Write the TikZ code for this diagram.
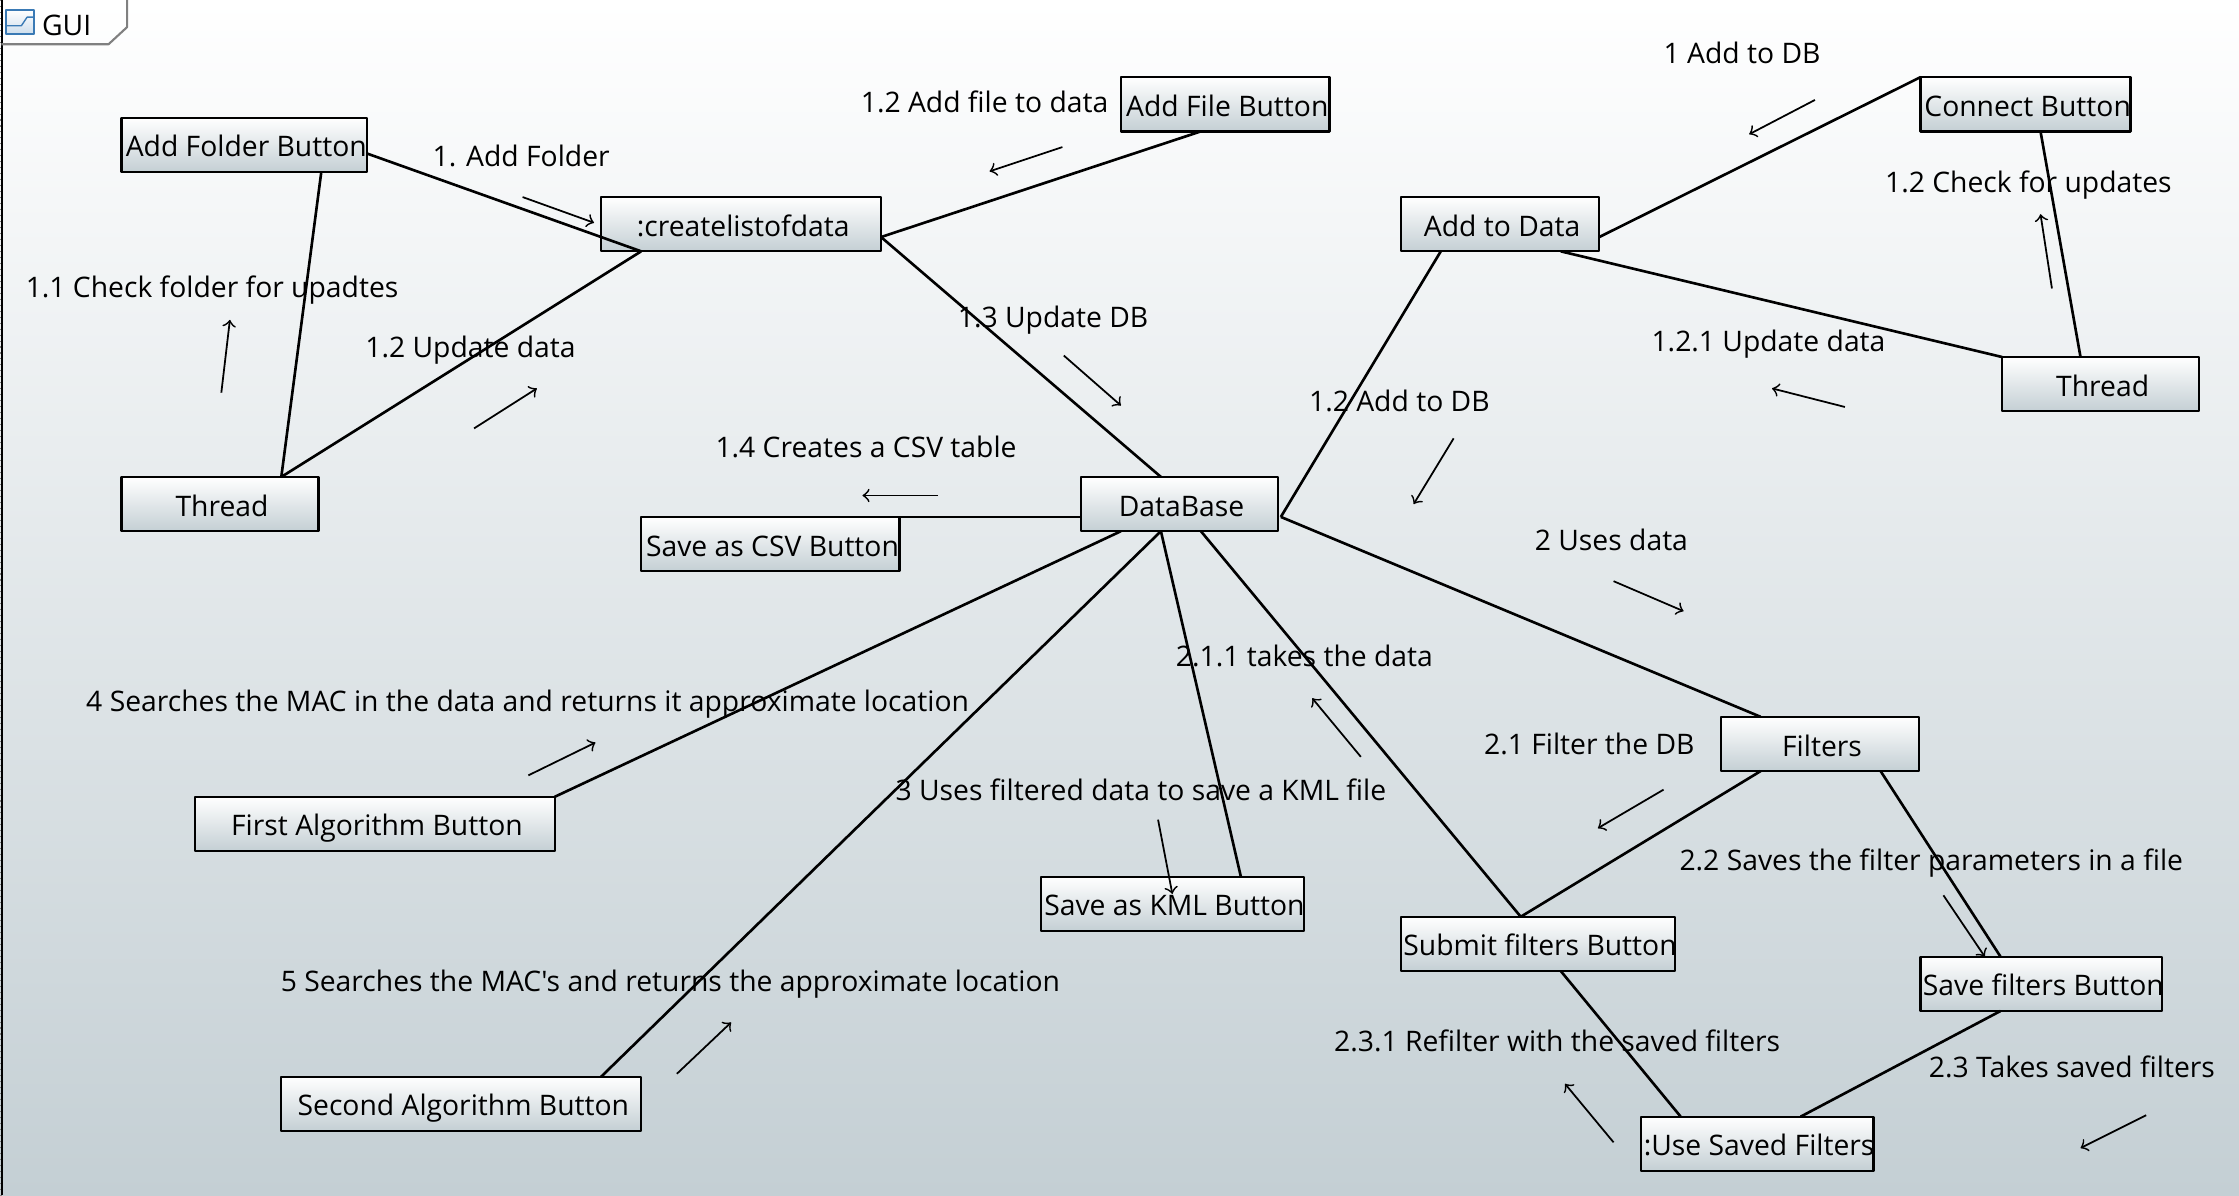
\documentclass[tikz,border=0pt]{standalone}
\usepackage{fontspec}
\setmainfont{Open Sans}[Ligatures=TeXOff]
\usepackage{tikz}
\usetikzlibrary{arrows}
\definecolor{steel}{HTML}{C4CFD4}
\definecolor{iconblue}{HTML}{3A7AB5}
\newcommand{\upx}{.01428cm}
\newcommand{\btntext}[1]{\makebox[0pt]{\hspace*{1.2pt}#1}}
\begin{document}
\begin{tikzpicture}[x=.01428cm,y=-.01428cm,line join=round]
\tikzstyle{btn} = [draw=black,line width=.65pt,top color=white,bottom color=steel,anchor=north west,minimum height=38*\upx,inner sep=0pt,outer sep=0pt,font=\fontsize{8.05}{9}\selectfont,text height=8.2pt,text depth=1.34pt]
\tikzstyle{ann} = [anchor=base,inner sep=0pt,font=\fontsize{8.05}{9}\selectfont]
\tikzstyle{link} = [line width=.75pt]
\tikzstyle{msg} = [line width=.5pt,->]
\fill[use as bounding box,top color=white,bottom color=steel] (0,0) rectangle (1568,836.9);
\draw[line width=1pt,gray,dash pattern=on .3pt off 1.4pt] (.4,0) -- (.4,836.9);
\draw[line width=.6pt,black] (1.2,0) -- (1.2,836.9);
\draw[line width=.6pt,gray] (1,31) -- (76,31) -- (89,19) -- (89,0);
\draw[line width=.6pt,iconblue,top color=white,bottom color=iconblue!25] (4,7) rectangle (24,24);
\draw[line width=.4pt,iconblue] (4,18) -- (15,18) -- (19,12) -- (24,12);
\node[anchor=base west,inner sep=0pt,font=\fontsize{8.05}{9}\selectfont] (guilabel) at (29,25) {GUI};
\node[btn,minimum width=172*\upx] (addfolder) at (85,82.5) {\btntext{Add Folder Button}};
\node[btn,minimum width=196*\upx] (create) at (421,138) {\btntext{:createlistofdata}};
\node[btn,minimum width=146*\upx] (addfile) at (785,54) {\btntext{Add File Button}};
\node[btn,minimum width=147*\upx] (connect) at (1345,54) {\btntext{Connect Button}};
\node[btn,minimum width=139*\upx] (adddata) at (981,138) {\btntext{Add to Data}};
\node[btn,minimum width=138*\upx] (threadl) at (85,334) {\btntext{Thread}};
\node[btn,minimum width=138*\upx] (threadr) at (1402,250) {\btntext{Thread}};
\node[btn,minimum width=138*\upx] (db) at (757,334) {\btntext{DataBase}};
\node[btn,minimum width=181*\upx] (csv) at (449,362) {\btntext{Save as CSV Button}};
\node[btn,minimum width=139*\upx] (filters) at (1205,502) {\btntext{Filters}};
\node[btn,minimum width=252*\upx] (first) at (136.5,558) {\btntext{First Algorithm Button}};
\node[btn,minimum width=184*\upx] (kml) at (729,614) {\btntext{Save as KML Button}};
\node[btn,minimum width=192*\upx] (submit) at (981,642) {\btntext{Submit filters Button}};
\node[btn,minimum width=169*\upx] (save) at (1345,670) {\btntext{Save filters Button}};
\node[btn,minimum width=252*\upx] (second) at (197,754) {\btntext{Second Algorithm Button}};
\node[btn,minimum width=163*\upx] (use) at (1149,782) {\btntext{:Use Saved Filters}};
\draw[link] ([shift={(172,25)}]addfolder.north west) -- ([shift={(28,38)}]create.north west);
\draw[link] ([shift={(140,38)}]addfolder.north west) -- ([shift={(112,0)}]threadl.north west);
\draw[link] ([shift={(112,0)}]threadl.north west) -- ([shift={(28,38)}]create.north west);
\draw[link] ([shift={(196,28)}]create.north west) -- ([shift={(56,38)}]addfile.north west);
\draw[link] ([shift={(196,28)}]create.north west) -- ([shift={(56,0)}]db.north west);
\draw[link] ([shift={(139,28)}]adddata.north west) -- (connect.north west);
\draw[link] ([shift={(84,38)}]connect.north west) -- ([shift={(55,0)}]threadr.north west);
\draw[link] ([shift={(112,38)}]adddata.north west) -- (threadr.north west);
\draw[link] ([shift={(28,38)}]adddata.north west) -- ([shift={(140,28)}]db.north west);
\draw[link] ([shift={(0,28)}]db.north west) -- ([shift={(140,0)}]csv.north west);
\draw[link] ([shift={(28,38)}]db.north west) -- ([shift={(252,0)}]first.north west);
\draw[link] ([shift={(56,38)}]db.north west) -- ([shift={(224,0)}]second.north west);
\draw[link] ([shift={(56,38)}]db.north west) -- ([shift={(140,0)}]kml.north west);
\draw[link] ([shift={(84,38)}]db.north west) -- ([shift={(84,0)}]submit.north west);
\draw[link] ([shift={(140,28)}]db.north west) -- ([shift={(28,0)}]filters.north west);
\draw[link] ([shift={(28,38)}]filters.north west) -- ([shift={(84,0)}]submit.north west);
\draw[link] ([shift={(112,38)}]filters.north west) -- ([shift={(56,0)}]save.north west);
\draw[link] ([shift={(56,38)}]save.north west) -- ([shift={(112,0)}]use.north west);
\draw[link] ([shift={(112,38)}]submit.north west) -- ([shift={(28,0)}]use.north west);
\foreach \i/\xa/\ya/\xb/\yb in {1/366/138/416/156,2/155/275/161/224,3/332/300/376/272,4/744/103/693/120,5/745/249/785/284,6/1271/70/1225/94,7/1437/202/1429/150,8/1292/285/1241/272,9/1018/307/990/353,10/657/347/604/347,11/1130/407/1179/428,12/953/530/919/489,13/1165/553/1119/580,14/370/543/417/520,15/811/574/821/626,16/1361/627/1390/670,17/474/752/512/716,18/1130/800/1096/759,19/1503/781/1457/804}{
  \coordinate (msg\i s) at (\xa,\ya);
  \coordinate (msg\i e) at (\xb,\yb);
  \draw[msg] (msg\i s) -- (msg\i e);
}
\node[ann] (m1) at (365,116.5) {1. Add Folder};
\node[ann] (m11) at (148.5,208.5) {1.1 Check folder for upadtes};
\node[ann] (m12) at (329.5,250.5) {1.2 Update data};
\node[ann] (m12f) at (689.5,78.5) {1.2 Add file to data};
\node[ann] (m13) at (737.5,229.5) {1.3 Update DB};
\node[ann] (m14) at (606.5,320.5) {1.4 Creates a CSV table};
\node[ann] (n1) at (1220,44.5) {1 Add to DB};
\node[ann] (n12c) at (1420.5,134.5) {1.2 Check for updates};
\node[ann] (n121) at (1238.5,246.5) {1.2.1 Update data};
\node[ann] (n12a) at (980,288.5) {1.2 Add to DB};
\node[ann] (u2) at (1128.5,385.5) {2 Uses data};
\node[ann] (u211) at (913.5,466.5) {2.1.1 takes the data};
\node[ann] (u21) at (1113,528.5) {2.1 Filter the DB};
\node[ann] (s4) at (369.5,498.5) {4 Searches the MAC in the data and returns it approximate location};
\node[ann] (s3) at (799,560.5) {3 Uses filtered data to save a KML file};
\node[ann] (u22) at (1352.5,609.5) {2.2 Saves the filter parameters in a file};
\node[ann] (s5) at (469.5,694.5) {5 Searches the MAC's and returns the approximate location};
\node[ann] (u231) at (1090.5,736.5) {2.3.1 Refilter with the saved filters};
\node[ann] (u23) at (1451,754.5) {2.3 Takes saved filters};
\end{tikzpicture}
\end{document}
